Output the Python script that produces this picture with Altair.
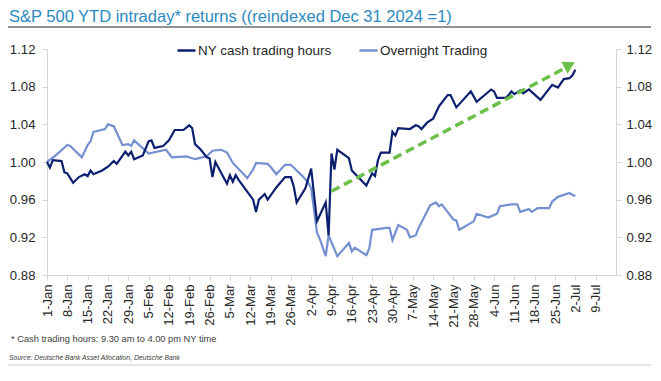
import altair as alt
import pandas as pd
from datetime import date, timedelta

# ---------------- data ----------------
ny_days = [0, 1, 2, 5, 6, 7, 9, 11, 13, 14, 15, 16, 19, 21, 23, 24, 27, 28, 29, 30,
           33, 35, 36, 37, 40, 42, 44, 47, 49, 50, 51, 53, 55, 56, 57, 58,
           62, 63, 64, 65, 66, 71, 72, 73, 75, 76, 79, 82, 84, 85, 86, 89,
           91, 93, 96, 97, 98, 99, 100, 104, 105, 110, 112, 113, 114, 115, 118,
           119, 120, 121, 125, 127, 128, 129, 131, 133, 135, 138, 139, 141, 146,
           148, 153, 154, 155, 158, 159, 160, 161, 163, 164, 166, 170, 174, 176,
           178, 180, 181, 182]
ny_values = [1.000, 0.994, 1.002, 1.001, 0.989, 0.988, 0.978, 0.984, 0.987, 0.985, 0.991, 0.987,
             0.991, 0.995, 1.001, 0.998, 1.011, 1.007, 1.011, 1.003,
             1.007, 1.022, 1.023, 1.015, 1.017, 1.023, 1.034, 1.034, 1.039, 1.036, 1.019, 1.013,
             1.005, 1.004, 0.984, 1.000,
             0.977, 0.986, 0.979, 0.986, 0.981, 0.960, 0.947, 0.960, 0.966, 0.960, 0.973, 0.984,
             0.984, 0.974, 0.957, 0.972,
             0.993, 0.937, 0.957, 0.922, 1.009, 0.992, 1.013, 1.004, 0.991, 0.975, 0.988, 0.985,
             1.002, 1.010, 1.010,
             1.032, 1.028, 1.036, 1.035, 1.039, 1.038, 1.035, 1.042, 1.046, 1.059, 1.071, 1.071,
             1.058, 1.075,
             1.064, 1.077, 1.075, 1.068, 1.068, 1.071, 1.075, 1.072, 1.076, 1.073, 1.077, 1.066,
             1.082, 1.079,
             1.088, 1.089, 1.092, 1.098]

on_days = [0, 3, 7, 8, 12, 14, 15, 16, 20, 21, 23, 26, 28, 29, 30, 35, 41, 43, 48, 51, 55,
           57, 60, 62, 64, 69, 71, 72, 76, 77, 79, 82, 84, 88, 90, 91, 93, 94, 96, 97, 100,
           104, 105, 106, 110, 111, 112, 117, 118, 119, 121, 124, 125, 127, 128, 132, 134,
           135, 136, 140, 141, 142, 147, 148, 152, 155, 156, 160, 162, 163, 166, 167, 169,
           173, 174, 176, 180, 181, 182]
on_values = [1.000, 1.007, 1.018, 1.017, 1.005, 1.018, 1.022, 1.032, 1.035, 1.040, 1.038, 1.018,
             1.019, 1.017, 1.023, 1.009, 1.013, 1.005, 1.006, 1.003, 1.006,
             1.012, 1.013, 1.010, 0.999, 0.983, 0.992, 0.999, 0.998, 0.995, 0.987, 0.997, 0.997,
             0.985, 0.978, 0.972, 0.925, 0.918, 0.900, 0.922, 0.900,
             0.914, 0.905, 0.909, 0.901, 0.908, 0.928, 0.930, 0.930, 0.917, 0.933, 0.928, 0.920,
             0.922, 0.930, 0.954, 0.957,
             0.953, 0.955, 0.939, 0.938, 0.928, 0.937, 0.945, 0.941, 0.945, 0.953, 0.955, 0.955,
             0.947, 0.950, 0.947, 0.951,
             0.951, 0.958, 0.963, 0.967, 0.965, 0.964]

arrow_days = [98, 178]
arrow_values = [0.969, 1.099]
arrow_head_day = [180]
arrow_head_value = [1.103]

series_names = ["NY cash trading hours", "Overnight Trading"]
y_ticks = [0.88, 0.92, 0.96, 1.00, 1.04, 1.08, 1.12]
x_tick_days = list(range(0, 190, 7))  # 1-Jan ... 9-Jul

title_text = "S&P 500 YTD intraday* returns ((reindexed Dec 31 2024 =1)"
footnote_text = "* Cash trading hours: 9.30 am to 4.00 pm NY time"
source_text = "Source: Deutsche Bank Asset Allocation, Deutsche Bank"

# ---------------- helpers ----------------
base_date = date(2025, 1, 1)


def to_iso(d):
    return (base_date + timedelta(days=d)).isoformat() + "T00:00:00"


def to_dt(d):
    dd = base_date + timedelta(days=d)
    return alt.DateTime(year=dd.year, month=dd.month, date=dd.day)


ny_df = pd.DataFrame({"date": [to_iso(d) for d in ny_days], "value": ny_values,
                      "series": series_names[0]})
on_df = pd.DataFrame({"date": [to_iso(d) for d in on_days], "value": on_values,
                      "series": series_names[1]})
arrow_df = pd.DataFrame({"date": [to_iso(d) for d in arrow_days], "value": arrow_values})
head_df = pd.DataFrame({"date": [to_iso(d) for d in arrow_head_day], "value": arrow_head_value})

DARK = "#0d1f6f"
LIGHT = "#7590d0"
GREEN = "#6cc04a"
AXIS_GRAY = "#d4d4d4"
LABEL = "#262626"
FONT = "Liberation Sans"

x_scale = alt.Scale(domain=[to_dt(0), to_dt(196)])
x_axis = alt.Axis(values=[to_dt(d) for d in x_tick_days], format="%-d-%b", labelAngle=270,
                  labelAlign="right", labelBaseline="middle", labelFontSize=13,
                  labelColor=LABEL, labelFont=FONT, labelPadding=4, tickSize=5,
                  tickColor=AXIS_GRAY, domainColor=AXIS_GRAY, grid=False, title=None,
                  labelOverlap=False, labelFlush=False)


def xenc():
    return alt.X("date:T", scale=x_scale, axis=x_axis)


y_scale = alt.Scale(domain=[0.88, 1.12], nice=False, zero=False)


def yaxis(orient, pad):
    return alt.Axis(orient=orient, values=y_ticks, format=".2f", labelFontSize=13.2,
                    labelColor=LABEL, labelFont=FONT, labelPadding=pad, tickSize=5,
                    tickColor=AXIS_GRAY, domainColor=AXIS_GRAY, grid=False, title=None)


color = alt.Color("series:N",
                  scale=alt.Scale(domain=series_names, range=[DARK, LIGHT]),
                  legend=alt.Legend(orient="none", legendX=129, legendY=-9, direction="horizontal",
                                    columns=2, title=None, symbolType="stroke",
                                    symbolSize=324, symbolStrokeWidth=2.5, labelFontSize=13.5,
                                    labelFont=FONT, labelColor=LABEL, labelOffset=1,
                                    columnPadding=22, padding=0))

on_line = alt.Chart(on_df).mark_line(strokeWidth=2.2).encode(
    x=xenc(), y=alt.Y("value:Q", scale=y_scale, axis=yaxis("left", 7)), color=color)

ny_line = alt.Chart(ny_df).mark_line(strokeWidth=2.2).encode(
    x=xenc(), y=alt.Y("value:Q", scale=y_scale, axis=None), color=color)

arrow_line = alt.Chart(arrow_df).mark_line(color=GREEN, strokeWidth=3.5,
                                            strokeDash=[9, 5]).encode(
    x=xenc(), y=alt.Y("value:Q", scale=y_scale, axis=yaxis("right", 5)))

arrow_head = alt.Chart(head_df).mark_point(shape="triangle-up", filled=True, color=GREEN,
                                           size=180, angle=62, opacity=1).encode(
    x=xenc(), y=alt.Y("value:Q", scale=y_scale, axis=None))

title_mark = alt.Chart(pd.DataFrame({"t": [title_text]})).mark_text(
    align="left", baseline="alphabetic", fontSize=16.5, font=FONT, color="#2b89c0").encode(
    x=alt.value(-38), y=alt.value(-27), text="t:N")

title_rule = alt.Chart(pd.DataFrame({"t": [0]})).mark_rule(color="#6e6e6e", strokeWidth=1.5).encode(
    x=alt.value(-39), x2=alt.value(604), y=alt.value(-22))

foot_mark = alt.Chart(pd.DataFrame({"t": [footnote_text]})).mark_text(
    align="left", baseline="alphabetic", fontSize=9.3, font=FONT, color="#404040").encode(
    x=alt.value(-36), y=alt.value(293), text="t:N")

source_mark = alt.Chart(pd.DataFrame({"t": [source_text]})).mark_text(
    align="left", baseline="alphabetic", fontSize=6.8, font=FONT, fontStyle="italic",
    color="#404040").encode(
    x=alt.value(-38), y=alt.value(311), text="t:N")

source_rule = alt.Chart(pd.DataFrame({"t": [0]})).mark_rule(color="#c8c8c8", strokeWidth=1).encode(
    x=alt.value(-39), x2=alt.value(604), y=alt.value(316))

chart = alt.layer(on_line, ny_line, arrow_line, arrow_head, title_mark, title_rule,
                  foot_mark, source_mark, source_rule).resolve_axis(
    y="independent").properties(
    width=569, height=226,
    autosize=alt.AutoSizeParams(type="none"),
    padding={"left": 39, "top": 41, "right": 37, "bottom": 91},
    background="white",
).configure_view(stroke=None)

chart.save("out.html", embed_options={"renderer": "svg", "actions": False})
